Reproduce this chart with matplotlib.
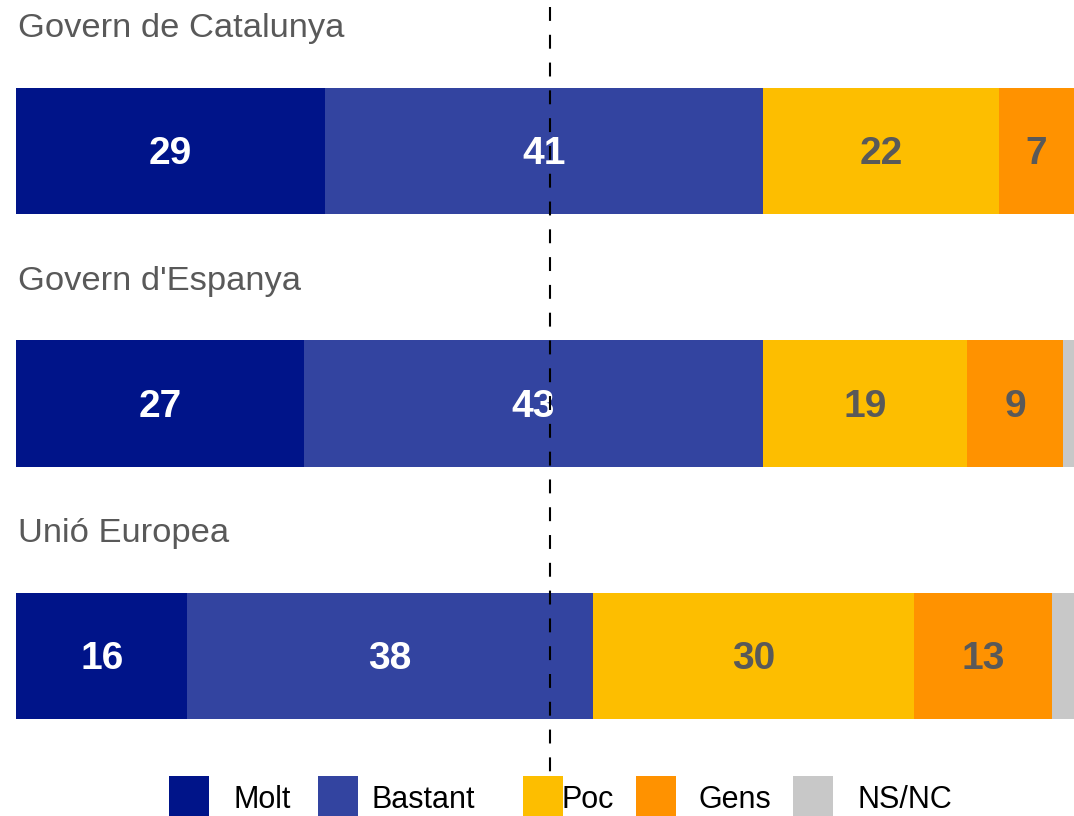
import matplotlib
matplotlib.use("Agg")
import matplotlib.pyplot as plt
from matplotlib.patches import Rectangle

plt.rcParams['font.family'] = ['Liberation Sans', 'DejaVu Sans']

# data
institutions = ["Govern de Catalunya", "Govern d'Espanya", "Unió Europea"]
categories = ["Molt", "Bastant", "Poc", "Gens", "NS/NC"]
molt = [29.2, 27.2, 16.2]
bastant = [41.4, 43.4, 38.3]
poc = [22.3, 19.3, 30.4]
gens = [7.1, 9.1, 13.0]
nsnc = [0.0, 1.0, 2.1]
reference_line = 50.5

colors = ["#001489", "#3344A0", "#FDBE00", "#FF9200", "#C8C8C8"]
text_colors = ["white", "white", "#595959", "#595959", None]

W, H = 1074, 816
fig = plt.figure(figsize=(W / 100, H / 100), dpi=100)
ax = fig.add_axes([0, 0, 1, 1])

# 0..100 maps to pixel 16..1074; bar centres at 151, 403.5, 656 px
px_per_pct = (1074 - 16) / 100
ax.set_xlim(-16 / px_per_pct, 100)
row = 252.5
ax.set_ylim((H - 151) / row, -151 / row)
ax.axis("off")

series = [molt, bastant, poc, gens, nsnc]
ypos = list(range(len(institutions)))
left = [0.0] * len(institutions)
for vals, col, tcol in zip(series, colors, text_colors):
    ax.barh(ypos, vals, left=left, height=0.5, color=col, edgecolor="none")
    if tcol:
        for y, l, v in zip(ypos, left, vals):
            ax.text(l + v / 2, y + 3 / row, f"{v:.0f}", ha="center",
                    va="center", color=tcol, fontsize=28, fontweight="bold")
    left = [l + v for l, v in zip(left, vals)]

for y, name in zip(ypos, institutions):
    ax.text(0.2, y - 0.5 + 4 / row, name, ha="left", va="center",
            fontsize=24.8, color="#595959")

ax.plot([reference_line, reference_line], [-144 / row, (H - 151) / row],
        color="black", lw=1.5, dashes=(6.67, 6.67), zorder=10,
        clip_on=False)

# legend along the bottom edge
patch_x = [169, 318, 523, 636, 793]
label_x = [233, 372, 562, 698, 857]
for px, lx, cat, col in zip(patch_x, label_x, categories, colors):
    fig.add_artist(Rectangle((px / W, (H - 816) / H), 40 / W, 40 / H,
                             transform=fig.transFigure, color=col,
                             linewidth=0))
    fig.text(lx / W, (H - 808) / H, cat, ha="left", va="baseline",
             fontsize=22, color="black")

fig.savefig("out.png", dpi=100)
